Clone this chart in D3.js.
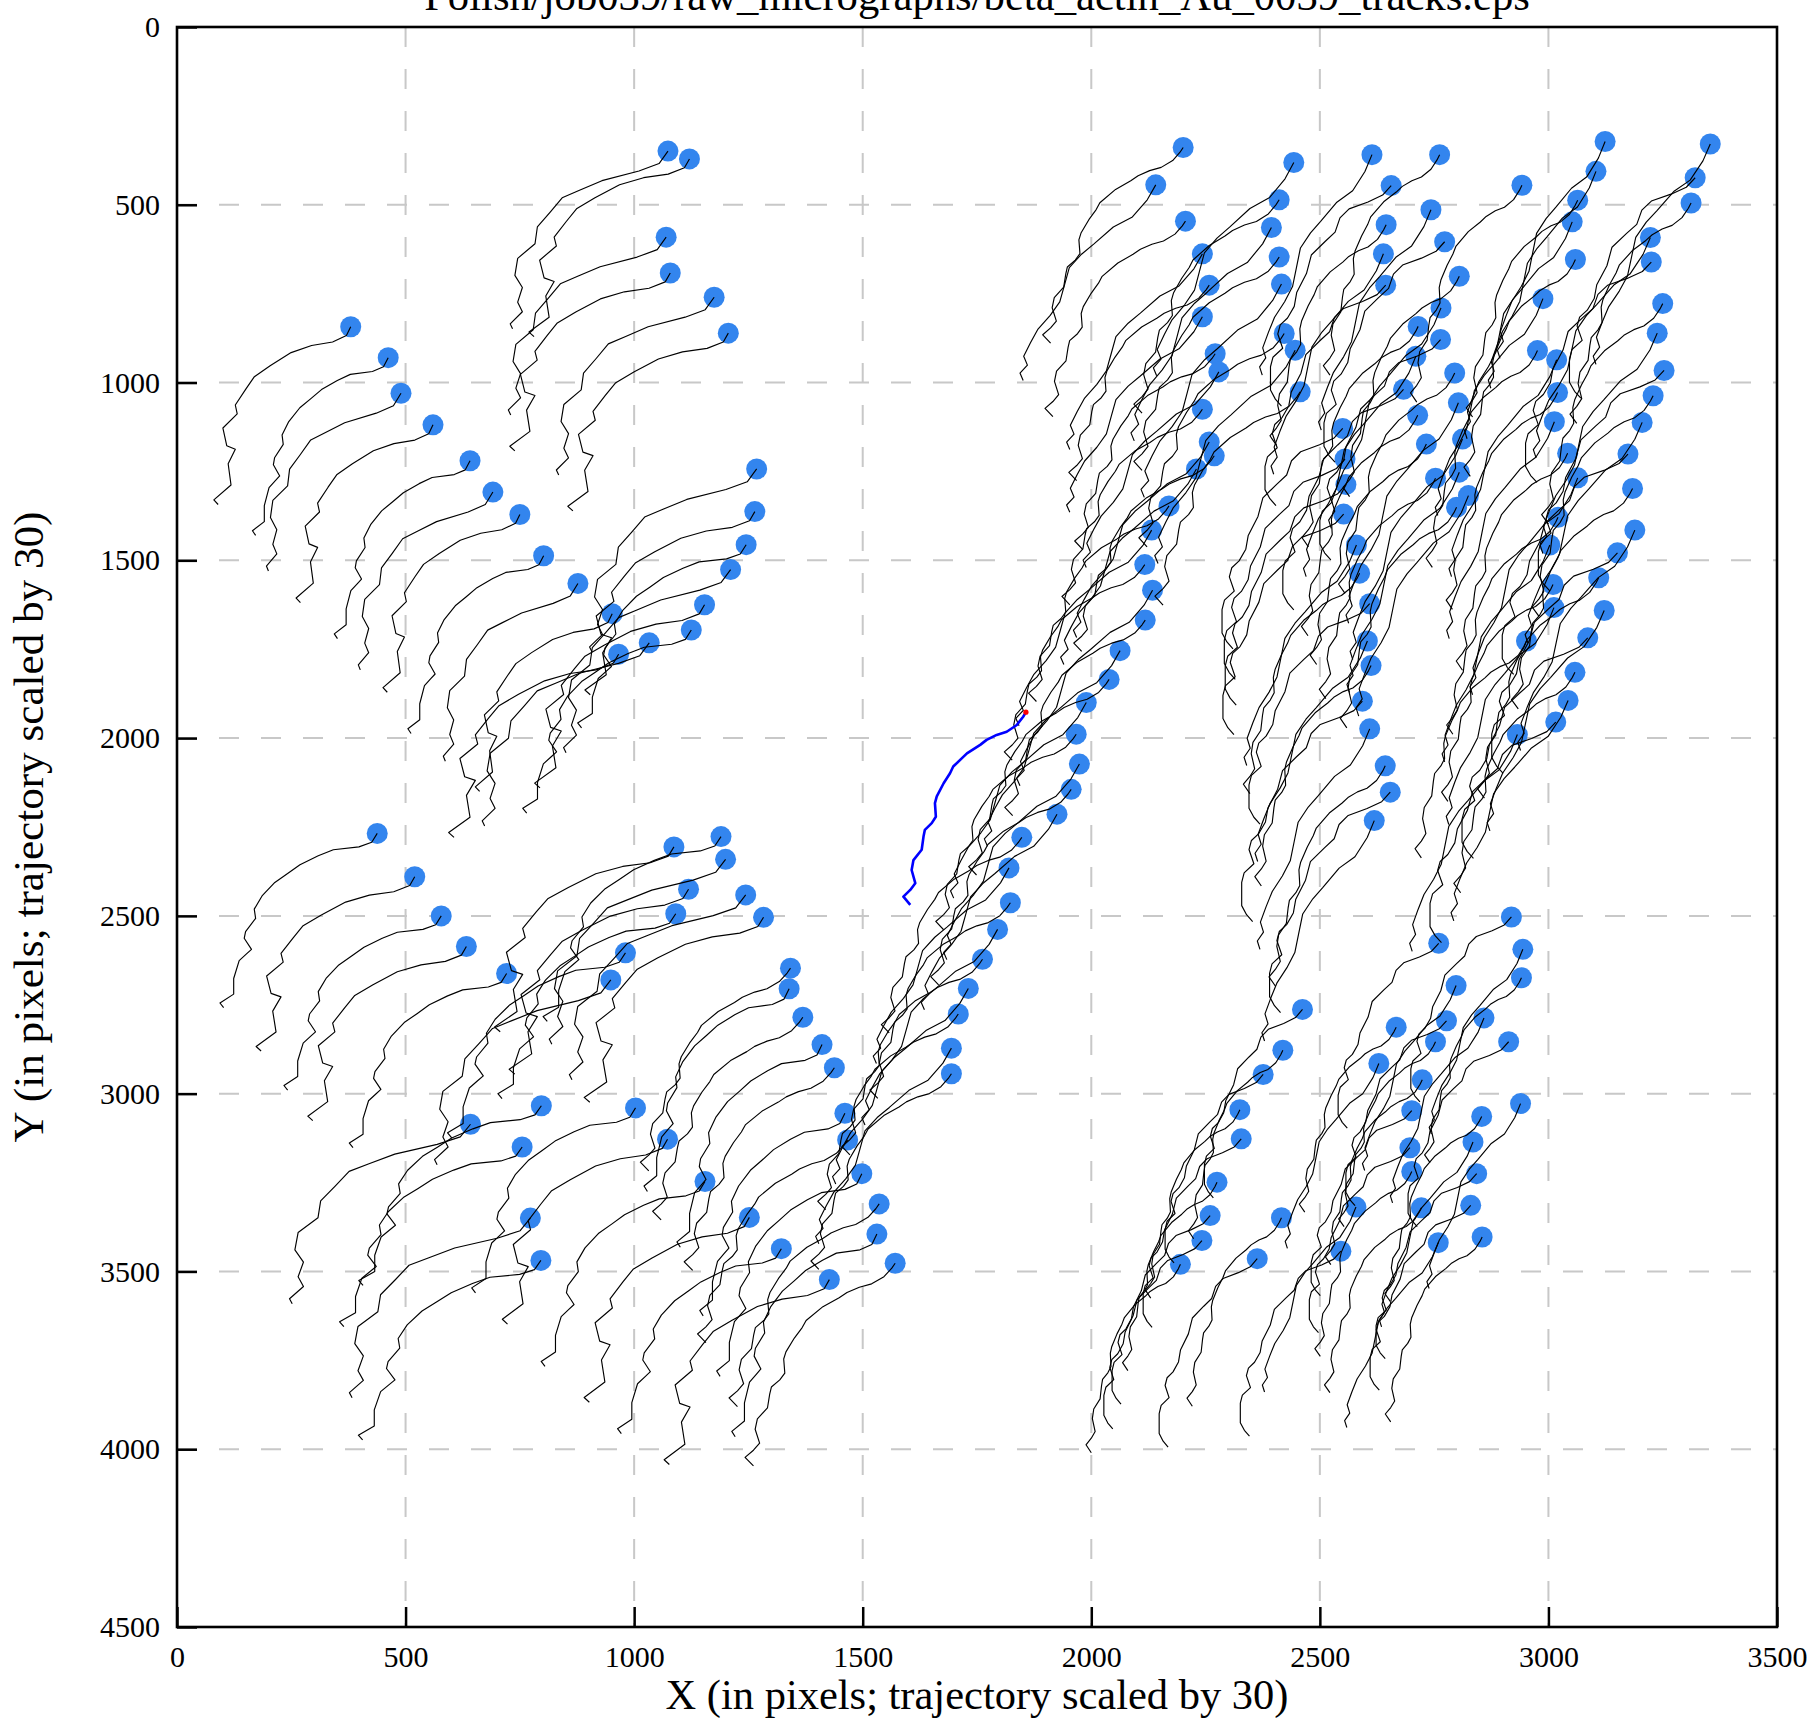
<!DOCTYPE html>
<html><head><meta charset="utf-8">
<script src="https://cdn.jsdelivr.net/npm/d3@7"></script>
<style>
body{margin:0;background:#fff}
svg{display:block}
text{font-family:"Liberation Serif","DejaVu Serif",serif;fill:#000}
</style>
</head><body>
<svg id="chart" width="1815" height="1727"></svg>
<script>
// ---------- data ----------
const titleText = "Polish/job039/raw_micrographs/beta_actin_Au_0039_tracks.eps";
const xLabel = "X (in pixels; trajectory scaled by 30)";
const yLabel = "Y (in pixels; trajectory scaled by 30)";
const xTicks = [0,500,1000,1500,2000,2500,3000,3500];
const yTicks = [0,500,1000,1500,2000,2500,3000,3500,4000,4500];

// track shapes (offsets from particle position, scaled trajectory units)
const shapeTopLeft = [[0,0],[-9,25],[-38,43],[-82,53],[-125,73],[-169,110],[-202,141],[-220,176],[-242,221],[-238,246],[-268,286],[-260,336],[-242,346],[-257,387],[-251,447],[-287,489],[-278,502]];
const shapeBottomLeft = [[0,0],[-12,25],[-40,38],[-96,46],[-129,63],[-169,88],[-196,113],[-224,138],[-252,176],[-269,213],[-266,239],[-288,276],[-291,295],[-275,326],[-286,339],[-302,358],[-314,408],[-314,452],[-344,477],[-336,490]];
const shapeUpperMid = [[0,0],[-19,35],[-62,56],[-141,83],[-189,110],[-226,131],[-252,172],[-279,213],[-284,260],[-321,301],[-327,349],[-311,383],[-321,424],[-311,451],[-337,485],[-332,499]];
const shapeDiagonal = [[0,0],[-6,13],[-20,36],[-42,55],[-64,64],[-86,78],[-100,92],[-129,116],[-159,153],[-166,172],[-180,200],[-195,237],[-199,256],[-197,294],[-206,312],[-221,331],[-224,350],[-228,387],[-246,416],[-250,444],[-242,481],[-253,500],[-268,519],[-253,542]];
const shapeRight = [[0,0],[-16,49],[-44,105],[-80,138],[-117,194],[-140,227],[-163,271],[-172,327],[-181,383],[-199,427],[-222,472],[-236,516],[-249,561],[-242,590],[-256,616],[-250,640]];
const shapeLowerRight = [[0,0],[-14,22],[-38,38],[-69,54],[-84,75],[-92,108],[-108,129],[-131,161],[-139,204],[-155,248],[-159,280],[-170,307],[-182,323],[-186,344],[-178,377],[-194,398],[-198,420],[-198,474],[-190,495],[-180,511]];

// particle positions per area of the micrograph
const groupA1 = [[380,843],[462,930],[490,1030],[560,1119],[641,1220],[691,1308],[750,1371],[802,1487],[877,1565],[952,1650]];
const groupA2 = [[966,1764],[1033,1732],[1125,1696],[1154,1625],[1211,1526],[1245,1456],[1264,1363],[1268,1243]];
const groupB  = [[1074,349],[1121,371],[1070,591],[1079,692],[1175,760],[1206,861]];
const groupM  = [[2201,339],[2141,444],[2206,546],[2243,638],[2258,726],[2243,815],[2271,919],[2279,970],[2243,1075],[2258,1167],[2269,1206],[2230,1243],[2170,1347],[2132,1415],[2117,1512],[2134,1584],[2118,1668],[2063,1754],[2039,1835],[1989,1900],[1967,1989],[1974,2073],[1956,2144],[1925,2214],[1848,2279],[1820,2365],[1823,2463],[1795,2538],[1762,2622],[1731,2704],[1709,2776],[1694,2872],[1694,2944]];
const groupR1 = [[2443,381],[2411,486],[2394,564],[2411,647],[2416,723],[2422,862],[2446,909],[2457,1026]];
const groupR2 = [[2614,359],[2762,359],[2656,446],[2743,514],[2645,556],[2773,604],[2639,638],[2805,701],[2644,726],[2765,790],[2715,842],[2764,879],[2710,926],[2795,973],[2683,1019],[2803,1057],[2714,1092],[2550,1129],[2812,1159],[2733,1173],[2555,1215],[2805,1252],[2753,1269],[2557,1287],[2825,1318],[2799,1351],[2552,1370],[2580,1457],[2587,1536],[2609,1622],[2604,1727],[2612,1796],[2593,1896],[2609,1974],[2643,2078],[2654,2152],[2619,2232]];
const groupR3 = [[3124,322],[2942,445],[3104,406],[3064,487],[3052,548],[3059,654],[2988,764],[2976,910],[3018,936],[3020,1028],[3013,1110],[3042,1199],[3064,1268],[3021,1379],[3003,1457],[3010,1568],[3012,1633],[2952,1727],[2932,1990]];
const groupR4 = [[3354,329],[3321,424],[3312,495],[3223,592],[3225,661],[3250,778],[3238,861],[3253,966],[3229,1037],[3205,1112],[3174,1201],[3184,1298],[3189,1415],[3151,1479],[3110,1549],[3122,1641],[3086,1718],[3058,1815],[3043,1894],[3016,1955]];
const groupC1 = [[438,2268],[520,2390],[578,2500],[633,2586],[721,2662]];
const groupC2 = [[1087,2306],[1190,2277],[1200,2341],[1119,2425],[1091,2494],[1244,2441],[1283,2504],[981,2604],[949,2680]];
const groupC3 = [[797,3034],[642,3086],[755,3150],[773,3350],[796,3469]];
const groupC4 = [[1003,3040],[1073,3128],[1155,3247],[1252,3348],[1322,3436],[1427,3523]];
const groupC5 = [[1342,2647],[1339,2705],[1369,2785],[1411,2862],[1438,2927],[1461,3055],[1467,3130],[1498,3225],[1536,3310],[1531,3395],[1571,3477]];
const groupD1 = [[2462,2763],[2419,2878],[2376,2946],[2325,3045],[2328,3127],[2275,3249],[2260,3343],[2416,3349],[2242,3413],[2195,3480],[2363,3464]];
const groupD2 = [[2919,2503],[2944,2594],[2941,2674],[2760,2577],[2798,2696],[2667,2813],[2777,2795],[2859,2787],[2753,2854],[2913,2854],[2629,2915],[2724,2961],[2701,3048],[2939,3028],[2854,3064],[2697,3152],[2835,3136],[2701,3219],[2843,3225],[2579,3319],[2722,3321],[2830,3314],[2759,3419],[2855,3403],[2546,3443]];

// total scaled displacement of tracks in each area
const groupEnds = {A1:[-290,500],A2:[-360,515],B:[-340,500],M:[-290,550],R1:[-300,600],R2:[-240,620],R3:[-230,610],R4:[-250,620],C1:[-336,490],C2:[-380,520],C3:[-390,505],C4:[-350,520],C5:[-310,570],D1:[-195,530],D2:[-200,520]};

// highlighted trajectory (blue) with its start (red)
const highlightTrack = [[1857,1927],[1851,1940],[1837,1963],[1815,1982],[1793,1991],[1771,2005],[1757,2019],[1728,2043],[1698,2080],[1691,2099],[1677,2127],[1662,2164],[1658,2183],[1660,2221],[1651,2239],[1636,2258],[1633,2277],[1629,2314],[1611,2343],[1607,2371],[1615,2408],[1604,2427],[1589,2446],[1604,2469]];

// ---------- drawing ----------
const groups = [
  {k:"A1",pts:groupA1,shapes:[shapeTopLeft,shapeBottomLeft,shapeUpperMid]},
  {k:"A2",pts:groupA2,shapes:[shapeTopLeft,shapeUpperMid,shapeBottomLeft]},
  {k:"B",pts:groupB,shapes:[shapeUpperMid,shapeTopLeft]},
  {k:"M",pts:groupM,shapes:[shapeDiagonal,shapeRight]},
  {k:"R1",pts:groupR1,shapes:[shapeRight,shapeDiagonal]},
  {k:"R2",pts:groupR2,shapes:[shapeRight,shapeDiagonal,shapeLowerRight]},
  {k:"R3",pts:groupR3,shapes:[shapeRight,shapeDiagonal]},
  {k:"R4",pts:groupR4,shapes:[shapeRight,shapeLowerRight,shapeDiagonal]},
  {k:"C1",pts:groupC1,shapes:[shapeBottomLeft,shapeTopLeft]},
  {k:"C2",pts:groupC2,shapes:[shapeTopLeft,shapeBottomLeft,shapeUpperMid]},
  {k:"C3",pts:groupC3,shapes:[shapeBottomLeft,shapeUpperMid]},
  {k:"C4",pts:groupC4,shapes:[shapeBottomLeft,shapeTopLeft]},
  {k:"C5",pts:groupC5,shapes:[shapeDiagonal,shapeBottomLeft]},
  {k:"D1",pts:groupD1,shapes:[shapeLowerRight,shapeDiagonal]},
  {k:"D2",pts:groupD2,shapes:[shapeLowerRight,shapeRight,shapeDiagonal]}
];

const L=177, R=1777, T=27, B=1627;
const x = d3.scaleLinear().domain([0,3500]).range([L,R]);
const y = d3.scaleLinear().domain([0,4500]).range([T,B]);
const svg = d3.select("#chart");
const serif = '"Liberation Serif","DejaVu Serif",serif';

// grid
const grid = svg.append("g").attr("stroke","#c8c8c8").attr("stroke-width",2).attr("stroke-dasharray","20,22");
grid.selectAll(".gx").data(xTicks.filter(v=>v>0&&v<3500)).join("line")
  .attr("x1",d=>x(d)).attr("x2",d=>x(d)).attr("y1",T).attr("y2",B);
grid.selectAll(".gy").data(yTicks.filter(v=>v>0&&v<4500)).join("line")
  .attr("y1",d=>y(d)).attr("y2",d=>y(d)).attr("x1",L).attr("x2",R);

// particles
const particles = [];
groups.forEach(g=>{
  g.pts.forEach((p,i)=>particles.push({g, p, shape:g.shapes[i%g.shapes.length]}));
});
svg.append("g").selectAll("circle").data(particles).join("circle")
  .attr("cx",d=>x(d.p[0])).attr("cy",d=>y(d.p[1])).attr("r",10.5).attr("fill","#3385ee");

const line = d3.line().x(d=>x(d[0])).y(d=>y(d[1]));
svg.append("g").selectAll("path").data(particles).join("path")
  .attr("fill","none").attr("stroke","#000").attr("stroke-width",1.15).attr("stroke-linejoin","round")
  .attr("d",d=>{
    const end = d.shape[d.shape.length-1];
    const tgt = groupEnds[d.g.k];
    const sx = tgt[0]/end[0], sy = tgt[1]/end[1];
    return line(d.shape.map(o=>[d.p[0]+o[0]*sx, d.p[1]+o[1]*sy]));
  });

svg.append("path").datum(highlightTrack).attr("fill","none").attr("stroke","#0000ff")
  .attr("stroke-width",2.6).attr("stroke-linejoin","round").attr("d",line);
svg.append("circle").attr("cx",x(highlightTrack[0][0])).attr("cy",y(highlightTrack[0][1])).attr("r",2.6).attr("fill","#ff0000");

// axes
const ax = svg.append("g").attr("transform",`translate(0,${B})`)
  .call(d3.axisBottom(x).tickValues(xTicks).tickSizeInner(-20).tickSizeOuter(0).tickPadding(19).tickFormat(d3.format("d")));
const ay = svg.append("g").attr("transform",`translate(${L},0)`)
  .call(d3.axisLeft(y).tickValues(yTicks).tickSizeInner(-20).tickSizeOuter(0).tickPadding(17).tickFormat(d3.format("d")));
[ax,ay].forEach(a=>{
  a.attr("font-family",null).attr("font-size",null);
  a.select(".domain").remove();
  a.selectAll(".tick line").attr("stroke","#000").attr("stroke-width",2.5);
  a.selectAll(".tick text").style("font-family",serif).style("font-size","30px").attr("fill","#000");
});

svg.append("rect").attr("x",L).attr("y",T).attr("width",R-L).attr("height",B-T)
  .attr("fill","none").attr("stroke","#000").attr("stroke-width",2.6);

function fitText(sel, target){
  const w = sel.node().getComputedTextLength();
  const fs = parseFloat(sel.style("font-size"));
  sel.style("font-size", (fs*target/w).toFixed(2)+"px");
}
const tx = svg.append("text").attr("x",(L+R)/2).attr("y",1709).attr("text-anchor","middle").style("font-family",serif).style("font-size","36px").text(xLabel);
fitText(tx, 623);
const ty = svg.append("text").attr("transform",`translate(43,${(T+B)/2}) rotate(-90)`).attr("text-anchor","middle").style("font-family",serif).style("font-size","36px").text(yLabel);
fitText(ty, 631);
const tt = svg.append("text").attr("x",(L+R)/2).attr("y",10).attr("text-anchor","middle").style("font-family",serif).style("font-size","36px").text(titleText);
fitText(tt, 1106);
</script>
</body></html>
